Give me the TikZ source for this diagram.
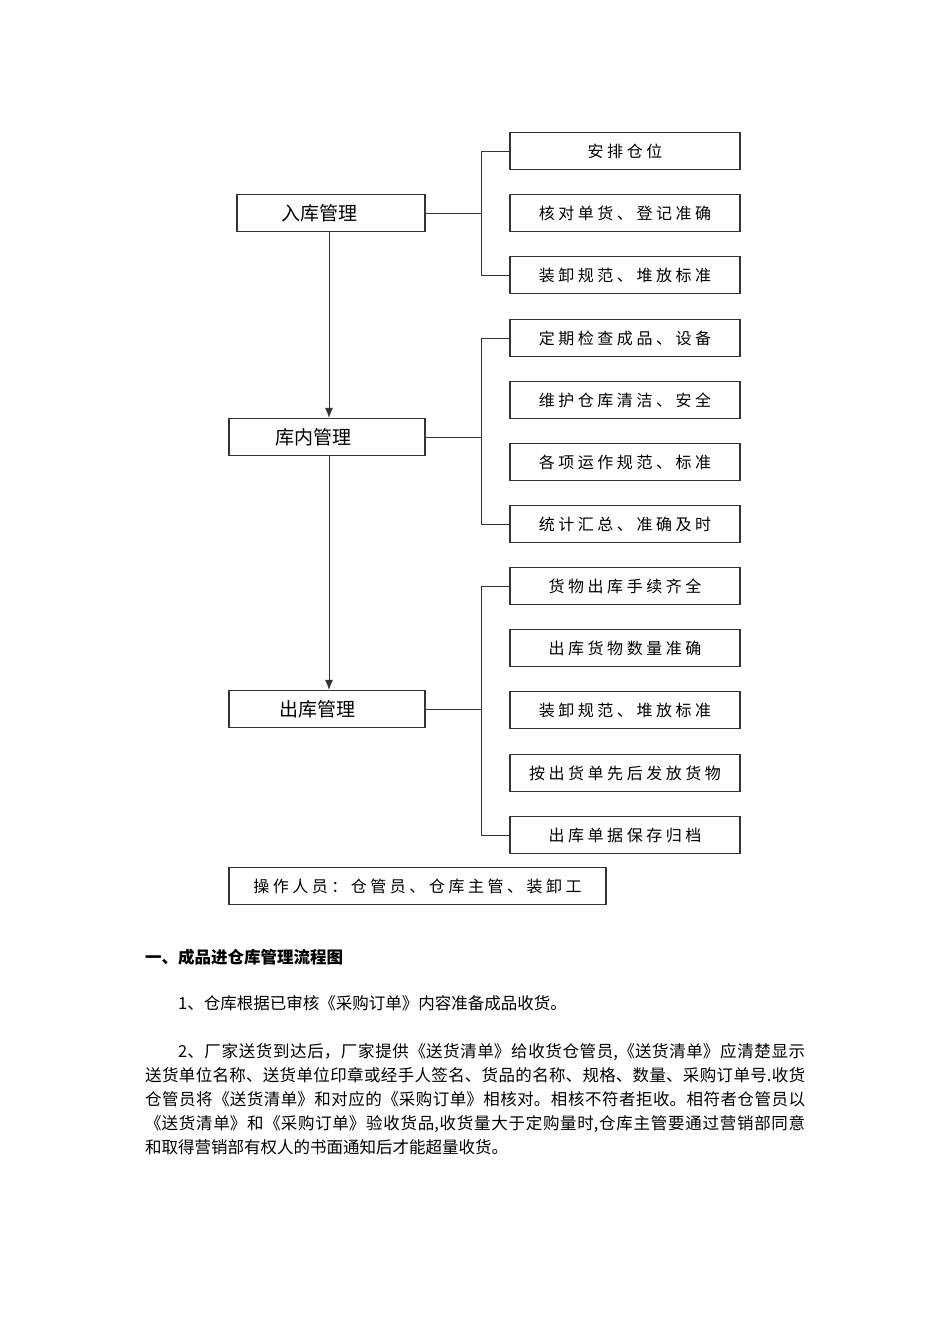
\documentclass[tikz,border=0pt]{standalone}
\usepackage{fontspec}
\setmainfont{Noto Sans CJK SC}
\newfontfamily\spacedFont[LetterSpace=22]{Noto Sans CJK SC}
\usetikzlibrary{arrows.meta}
\XeTeXlinebreaklocale "zh"
\XeTeXlinebreakskip=0pt plus 3pt

\tikzset{
	mainBox/.style={rectangle, draw=black!80, line width=1.2pt, text centered, minimum width=196pt, minimum height=37pt, font=\fontsize{19}{19}\selectfont},
	subBox/.style={rectangle, draw=black!80, line width=1.2pt, text centered, minimum width=230pt, minimum height=37pt, font=\spacedFont\fontsize{16}{16}\selectfont},
	link/.style={draw=black!80, line width=1pt},
	bodyText/.style={anchor=west, inner sep=0pt, font=\fontsize{16.5}{24}\selectfont}
}

\begin{document}
\begin{tikzpicture}[x=1pt, y=-1pt]
		\useasboundingbox (0,0) rectangle (950,1344);
		
		%Main boxes
		\node (inStock) at (331,213) [mainBox, minimum width=188pt]{入库管理\hspace*{24pt}};
		\node (inStore) at (327,437) [mainBox]{库内管理\hspace*{28pt}};
		\node (outStock) at (327,709) [mainBox]{出库管理\hspace*{20pt}};
		
		%First group
		\node (firstSub1) at (625,151) [subBox]{安排仓位};
		\node (secondSub1) at (625,213) [subBox]{核对单货、登记准确};
		\node (thirdSub1) at (625,275) [subBox]{装卸规范、堆放标准};
		
		\draw[link] (firstSub1.west) -- ++(-28,0) |- (thirdSub1.west);
		\draw[link] (inStock.east) -- ([xshift=-28pt]secondSub1.west);
		
		%Second group
		\node (firstSub2) at (625,338) [subBox]{定期检查成品、设备};
		\node (secondSub2) at (625,400) [subBox]{维护仓库清洁、安全};
		\node (thirdSub2) at (625,462) [subBox]{各项运作规范、标准};
		\node (fourthSub2) at (625,524) [subBox]{统计汇总、准确及时};
		
		\draw[link] (firstSub2.west) -- ++(-28,0) |- (fourthSub2.west);
		\draw[link] (inStore.east) -- ([xshift=-28pt]inStore.east -| firstSub2.west);
		
		%Third group
		\node (firstSub3) at (625,586) [subBox]{货物出库手续齐全};
		\node (secondSub3) at (625,648) [subBox]{出库货物数量准确};
		\node (thirdSub3) at (625,710) [subBox]{装卸规范、堆放标准};
		\node (fourthSub3) at (625,773) [subBox]{按出货单先后发放货物};
		\node (fifthSub3) at (625,835) [subBox]{出库单据保存归档};
		
		\draw[link] (firstSub3.west) -- ++(-28,0) |- (fifthSub3.west);
		\draw[link] (outStock.east) -- ([xshift=-28pt]outStock.east -| firstSub3.west);
		
		%Arrows
		\draw[link, -{Latex[length=10pt,width=8pt]}] (inStock.south -| 329,0) -- (inStore.north -| 329,0);
		\draw[link, -{Latex[length=10pt,width=8pt]}] (inStore.south -| 329,0) -- (outStock.north -| 329,0);
		
		%Operators
		\node (operators) at (417.5,886) [subBox, minimum width=377pt]{操作人员：仓管员、仓库主管、装卸工};
		
		%Text below
		\node (titleText) at (145,957) [bodyText, font=\bfseries\fontsize{16.5}{24}\selectfont]{一、成品进仓库管理流程图};
		\node (firstPara) at (178,1003) [bodyText]{1、仓库根据已审核《采购订单》内容准备成品收货。};
		\node (secondPara) at (145,1043) [bodyText, anchor=north west, text width=660pt, align=justify]{\hspace*{33pt}2、厂家送货到达后，厂家提供《送货清单》给收货仓管员,《送货清单》应清楚显示\linebreak[4]送货单位名称、送货单位印章或经手人签名、货品的名称、规格、数量、采购订单号.收货\linebreak[4]仓管员将《送货清单》和对应的《采购订单》相核对。相核不符者拒收。相符者仓管员以\linebreak[4]《送货清单》和《采购订单》验收货品,收货量大于定购量时,仓库主管要通过营销部同意\linebreak[4]和取得营销部有权人的书面通知后才能超量收货。};
		
\end{tikzpicture}
\end{document}
